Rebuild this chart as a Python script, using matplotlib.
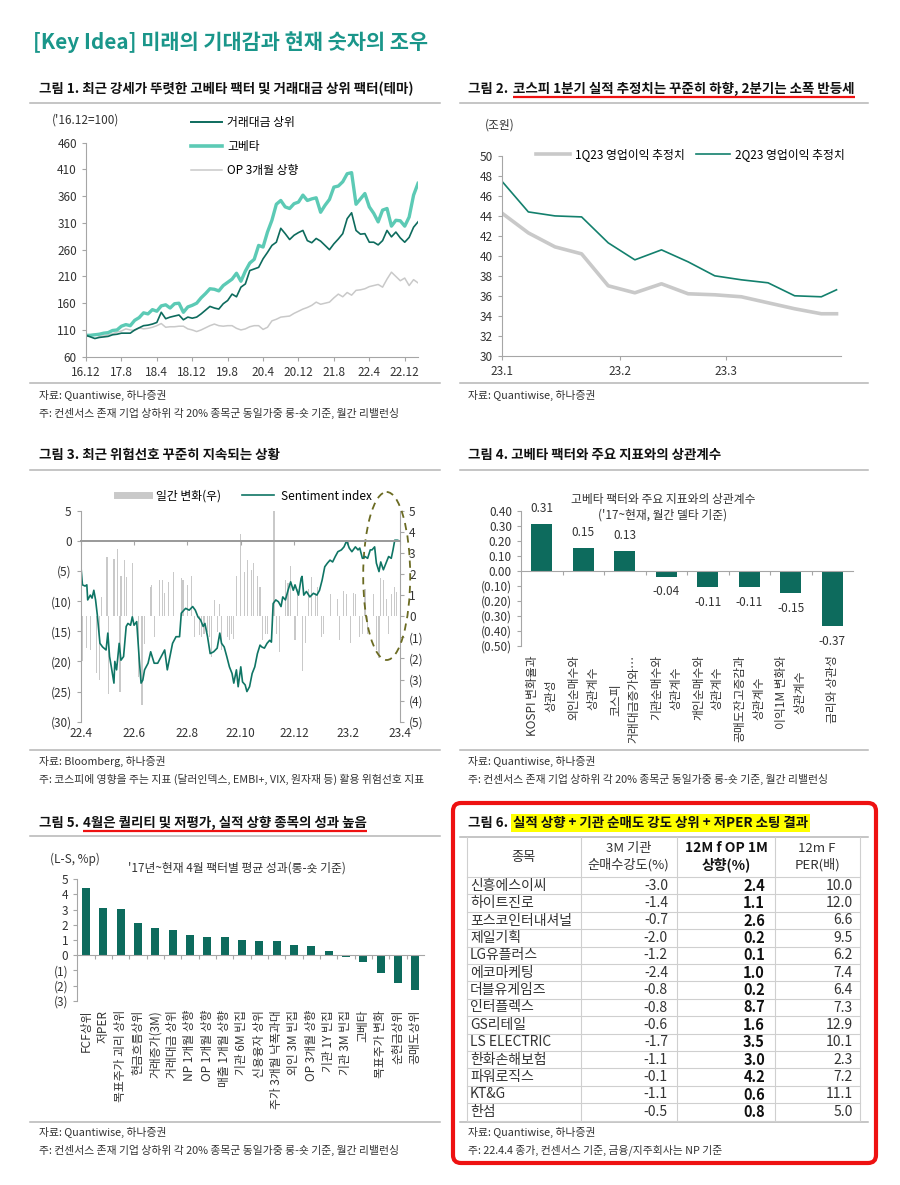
import numpy as np
import pandas as pd
import matplotlib
matplotlib.use('Agg')
import matplotlib.pyplot as plt
from matplotlib.patches import Ellipse, FancyBboxPatch
from matplotlib.lines import Line2D
from matplotlib.ticker import FuncFormatter

plt.rcParams['font.family'] = ['Noto Sans CJK KR', 'DejaVu Sans']
plt.rcParams['axes.unicode_minus'] = False

# ---- 그림 1 데이터 (월간, 16.12 ~ 23.3) ----
p1_xlab = ['16.12', '17.8', '18.4', '18.12', '19.8', '20.4', '20.12', '21.8', '22.4', '22.12']
vol_top = [100, 97, 94, 96, 97, 98, 101, 102, 104, 104, 104, 110, 114, 118, 119, 121, 124, 143, 131, 134,
           136, 138, 129, 134, 132, 134, 140, 147, 154, 151, 149, 159, 165, 177, 172, 190, 196, 221, 224, 227,
           243, 255, 268, 274, 300, 290, 279, 287, 292, 296, 277, 273, 281, 276, 268, 260, 271, 280, 290, 318,
           329, 296, 289, 290, 274, 274, 269, 277, 296, 284, 293, 282, 274, 283, 302, 312]
high_beta = [100, 100, 101, 102, 104, 105, 109, 110, 117, 120, 118, 128, 133, 142, 140, 148, 145, 155, 157, 151,
             159, 160, 143, 153, 156, 160, 170, 178, 187, 186, 183, 193, 199, 205, 216, 201, 220, 235, 242, 268,
             265, 293, 315, 345, 352, 340, 337, 346, 349, 362, 352, 355, 357, 330, 343, 354, 377, 379, 387, 402,
             404, 345, 355, 365, 340, 328, 312, 334, 337, 304, 315, 314, 304, 321, 362, 384]
op_up3 = [100, 101, 102, 98, 99, 101, 103, 106, 108, 112, 110, 109, 114, 112, 113, 115, 118, 122, 115, 116,
          116, 117, 117, 112, 110, 107, 110, 114, 118, 121, 118, 117, 118, 118, 113, 110, 112, 116, 118, 118,
          111, 115, 127, 130, 134, 135, 136, 141, 145, 149, 152, 156, 162, 158, 160, 162, 170, 177, 172, 180,
          175, 184, 185, 187, 191, 193, 195, 190, 205, 218, 210, 202, 207, 193, 204, 198]

# ---- 그림 2 데이터 (주간) ----
p2_dates = ['2023-01-01', '2023-01-08', '2023-01-15', '2023-01-22', '2023-01-29', '2023-02-05', '2023-02-12',
            '2023-02-19', '2023-02-26', '2023-03-05', '2023-03-12', '2023-03-19', '2023-03-26', '2023-03-30']
op_1q23 = [44.3, 42.3, 40.9, 40.2, 37.0, 36.3, 37.2, 36.2, 36.1, 35.9, 35.3, 34.7, 34.2, 34.2]
op_2q23 = [47.5, 44.4, 44.0, 43.9, 41.3, 39.6, 40.6, 39.4, 38.0, 37.6, 37.3, 36.0, 35.9, 36.6]
p2_xlab = ['23.1', '23.2', '23.3']

# ---- 그림 3 데이터 (22.4.1 기준 경과일) ----
sent_day = [0, 2, 5, 7, 8, 11, 13, 15, 17, 19, 22, 25, 29, 31, 33, 35, 38, 39, 41, 44, 46, 49, 52, 54, 57, 59,
            61, 64, 67, 69, 71, 73, 77, 80, 84, 88, 92, 96, 99, 102, 105, 109, 113, 115, 118, 120, 124, 128, 131,
            134, 137, 140, 142, 145, 148, 152, 156, 159, 161, 164, 167, 170, 173, 175, 178, 180, 183, 185, 188,
            190, 193, 196, 199, 202, 205, 207, 210, 213, 216, 218, 220, 223, 226, 229, 231, 234, 237, 240, 243,
            245, 249, 252, 253, 255, 258, 262, 266, 270, 273, 276, 279, 282, 285, 288, 291, 294, 298, 301, 304,
            307, 310, 314, 317, 319, 322, 325, 328, 331, 333, 336, 338, 341, 343, 346, 349, 352, 355, 357, 359,
            362, 364]
sent_val = [-3.8, -7.3, -7.5, -7.3, -9.8, -9.0, -9.5, -8.2, -9.8, -12.3, -17.0, -17.6, -18.1, -15.3, -19.2,
            -20.9, -23.6, -20.0, -21.4, -17.0, -19.8, -19.2, -14.2, -13.7, -14.0, -12.6, -14.0, -13.4, -19.8,
            -23.6, -23.1, -21.4, -20.3, -18.4, -20.3, -20.3, -19.2, -18.1, -21.4, -19.2, -17.0, -15.9, -15.9,
            -12.0, -11.5, -11.2, -11.5, -10.9, -11.5, -12.6, -13.1, -14.2, -13.7, -15.9, -18.7, -18.4, -17.8,
            -15.3, -17.0, -17.6, -19.2, -20.9, -22.0, -23.6, -21.4, -24.2, -20.9, -23.4, -23.9, -25.0, -24.2,
            -22.0, -20.9, -18.7, -17.3, -17.6, -17.8, -17.0, -16.5, -16.8, -10.4, -9.8, -10.1, -10.9, -9.3,
            -9.8, -8.2, -6.8, -8.2, -7.3, -9.0, -6.2, -5.9, -9.0, -8.4, -9.3, -8.7, -9.0, -8.2, -6.5, -4.3,
            -3.7, -3.2, -3.5, -2.6, -1.8, -1.5, -1.0, 0.0, -1.2, -1.8, -1.0, -1.5, -1.2, -2.9, -2.6, -2.9,
            -1.5, -1.5, -1.0, -3.7, -5.1, -3.5, -4.8, -3.7, -2.6, -2.9, -1.5, 0.1, 0.1, 0.0]
chg_day = [2, 7, 11, 18, 21, 24, 30, 32, 38, 42, 45, 46, 50, 52, 59, 66, 70, 73, 80, 81, 84, 90, 94, 96, 100,
           106, 115, 117, 122, 127, 130, 136, 138, 141, 145, 147, 150, 153, 156, 159, 161, 168, 170, 172, 175,
           178, 183, 187, 191, 195, 198, 202, 205, 208, 211, 214, 221, 224, 227, 234, 237, 240, 245, 248, 254,
           257, 260, 264, 268, 271, 275, 278, 286, 294, 296, 300, 304, 308, 312, 314, 319, 322, 325, 328, 335,
           338, 341, 343, 346, 350, 352, 355, 359, 361]
chg_val = [-2.1, -1.5, -1.6, -2.7, -3.0, 0.9, 2.8, -3.7, 2.7, 3.2, -3.6, 1.9, 2.65, 1.86, 2.5, -2.9, -4.2,
           -1.3, 1.4, 1.5, -1.0, 1.7, 1.7, 1.1, 1.6, 2.1, 1.8, 1.7, 1.5, 1.9, -1.0, -0.9, -1.0, -0.85, -0.75,
           -1.0, -1.95, 0.75, -0.75, 0.6, -1.6, -1.0, -1.15, -0.85, -1.1, 1.9, 3.9, 2.1, 2.65, 2.2, 2.5, 1.9,
           1.4, -1.15, -0.85, -0.85, 5.0, -0.85, -1.7, 1.7, 1.55, 2.4, -1.15, 1.3, -2.6, -1.25, 1.3, 1.85, 1.1,
           1.4, -1.0, -0.85, 1.05, 0.8, -1.15, 1.2, 1.05, -1.25, 1.1, 1.05, -1.0, -0.85, 1.3, -0.85, 1.05,
           -1.6, -2.0, 1.8, 1.7, 0.8, -0.85, 1.05, 1.4, 1.15]
p3_months = ['2022-04-01', '2022-06-01', '2022-08-01', '2022-10-01', '2022-12-01', '2023-02-01', '2023-04-01']
p3_xlab = ['22.4', '22.6', '22.8', '22.10', '22.12', '23.2', '23.4']

# ---- 그림 4 데이터 ----
p4_labels = ['KOSPI 변화율과\n상관성', '외인순매수와\n상관계수', '코스피\n거래대금증가와…', '기관순매수와\n상관계수',
             '개인순매수와\n상관계수', '공매도잔고증감과\n상관계수', '이익1M 변화와\n상관계수', '금리와 상관성']
p4_vals = [0.31, 0.15, 0.13, -0.04, -0.11, -0.11, -0.15, -0.37]

# ---- 그림 5 데이터 ----
p5_labels = ['FCF상위', '저PER', '목표주가 괴리 상위', '현금흐름상위', '거래증가(3M)', '거래대금 상위', 'NP 1개월 상향',
             'OP 1개월 상향', '매출 1개월 상향', '기관 6M 빈집', '신용융자 상위', '주가 3개월 낙폭과대', '외인 3M 빈집',
             'OP 3개월 상향', '기관 1Y 빈집', '기관 3M 빈집', '고베타', '목표주가 변화', '순현금상위', '공매도상위']
p5_vals = [4.4, 3.12, 3.03, 2.13, 1.82, 1.65, 1.34, 1.19, 1.19, 1.01, 0.92, 0.92, 0.70, 0.62, 0.29,
           -0.11, -0.44, -1.16, -1.82, -2.31]

# ---- 그림 6 데이터 ----
t6_names = ['신흥에스이씨', '하이트진로', '포스코인터내셔널', '제일기획', 'LG유플러스', '에코마케팅', '더블유게임즈',
            '인터플렉스', 'GS리테일', 'LS ELECTRIC', '한화손해보험', '파워로직스', 'KT&G', '한섬']
t6_inst = [-3.0, -1.4, -0.7, -2.0, -1.2, -2.4, -0.8, -0.8, -0.6, -1.7, -1.1, -0.1, -1.1, -0.5]
t6_op = [2.4, 1.1, 2.6, 0.2, 0.1, 1.0, 0.2, 8.7, 1.6, 3.5, 3.0, 4.2, 0.6, 0.8]
t6_per = [10.0, 12.0, 6.6, 9.5, 6.2, 7.4, 6.4, 7.3, 12.9, 10.1, 2.3, 7.2, 11.1, 5.0]

W, H = 900, 1185
TEAL = '#0d6b5d'
LTEAL = '#5ccab5'
GRAY = '#c9c9c9'
AXC = '#a6a6a6'
TXT = '#333333'
FS = 8.5

fig = plt.figure(figsize=(9, 11.85), dpi=100)


def box(x0, y0, x1, y1):
    return fig.add_axes([x0 / W, 1 - y1 / H, (x1 - x0) / W, (y1 - y0) / H])


def style(ax):
    for s in ['top', 'right']:
        ax.spines[s].set_visible(False)
    for s in ['left', 'bottom']:
        ax.spines[s].set_color(AXC)
    ax.tick_params(color=AXC, labelcolor=TXT, labelsize=FS, length=3)
    ax.patch.set_visible(False)


def paren(dec):
    def f(v, pos):
        s = '%.*f' % (dec, abs(v))
        return '(%s)' % s if v < -1e-9 else s
    return FuncFormatter(f)


# 그림 1
ax1 = box(86, 142.7, 418, 356.7)
m = np.arange(len(high_beta))
ax1.plot(m, op_up3, color=GRAY, lw=1.1)
ax1.plot(m, high_beta, color=LTEAL, lw=2.4)
ax1.plot(m, vol_top, color=TEAL, lw=1.2)
ax1.set_xlim(0, 75)
ax1.set_ylim(60, 460)
ax1.set_yticks(range(60, 461, 50))
ax1.set_xticks(m[::8][:len(p1_xlab)])
ax1.set_xticklabels(p1_xlab)
style(ax1)
h1 = [Line2D([], [], color=TEAL, lw=1.4), Line2D([], [], color=LTEAL, lw=2.6), Line2D([], [], color=GRAY, lw=1.1)]
ax1.legend(h1, ['거래대금 상위', '고베타', 'OP 3개월 상향'], loc='upper left', bbox_to_anchor=(0.315, 1.125),
           frameon=False, fontsize=FS, handlelength=2.7, labelspacing=0.95, borderpad=0, borderaxespad=0,
           handletextpad=0.4)

# 그림 2
ax2 = box(501.7, 156, 840.7, 355.7)
d2 = (pd.to_datetime(p2_dates) - pd.Timestamp('2023-01-01')).days
ax2.plot(d2, op_1q23, color=GRAY, lw=2.6)
ax2.plot(d2, op_2q23, color='#13806d', lw=1.2)
ax2.set_ylim(30, 50)
ax2.set_yticks(range(30, 51, 2))
ax2.set_xlim(0, 89.1)
xt2 = (pd.to_datetime(['2023-01-01', '2023-02-01', '2023-03-01']) - pd.Timestamp('2023-01-01')).days
ax2.set_xticks(xt2)
ax2.set_xticklabels(p2_xlab)
style(ax2)
h2 = [Line2D([], [], color=GRAY, lw=2.6), Line2D([], [], color='#13806d', lw=1.2)]
ax2.legend(h2, ['1Q23 영업이익 추정치', '2Q23 영업이익 추정치'], loc='upper left', bbox_to_anchor=(0.1, 1.04),
           ncol=2, frameon=False, fontsize=FS, handlelength=2.9, columnspacing=1.0, borderpad=0,
           borderaxespad=0, handletextpad=0.4)

# 그림 3
ax3 = box(80.7, 510.7, 400, 721.7)
ax3r = ax3.twinx()
ax3r.bar(chg_day, chg_val, width=1.3, color=GRAY)
ax3.plot(sent_day, sent_val, color='#0f7565', lw=1.2)
ax3.set_zorder(ax3r.get_zorder() + 1)
ax3.patch.set_visible(False)
ax3.set_xlim(0, 365)
ax3.set_ylim(-30, 5)
ax3.set_yticks(range(-30, 6, 5))
ax3.yaxis.set_major_formatter(paren(0))
ax3r.set_ylim(-5, 5)
ax3r.set_yticks(range(-5, 6))
ax3r.yaxis.set_major_formatter(paren(0))
xt3 = (pd.to_datetime(p3_months) - pd.Timestamp('2022-04-01')).days
style(ax3)
ax3.spines['bottom'].set_position(('data', 0))
ax3.spines['bottom'].set_color('#999999')
ax3.spines['bottom'].set_linewidth(1.4)
ax3.set_xticks(xt3)
ax3.tick_params(axis='x', labelbottom=False)
for x, lab in zip(xt3, p3_xlab):
    ax3.text(x, -0.058, lab, transform=ax3.get_xaxis_transform(), ha='center', va='center', fontsize=FS,
             color=TXT)
for s in ['top', 'left', 'bottom']:
    ax3r.spines[s].set_visible(False)
ax3r.spines['right'].set_color(AXC)
ax3r.tick_params(color=AXC, labelcolor=TXT, labelsize=FS, length=3)
h3 = [Line2D([], [], color=GRAY, lw=5), Line2D([], [], color='#0f7565', lw=1.2)]
ax3.legend(h3, ['일간 변화(우)', 'Sentiment index'], loc='upper left', bbox_to_anchor=(0.114, 1.1), ncol=2,
           frameon=False, fontsize=FS, handlelength=2.7, columnspacing=1.8, borderpad=0, borderaxespad=0,
           handletextpad=0.6)

# 그림 4
ax4 = box(521, 510.7, 853, 645.7)
x4 = np.arange(len(p4_vals))
ax4.bar(x4, p4_vals, width=0.5, color=TEAL)
ax4.set_xlim(-0.5, 7.5)
ax4.set_ylim(-0.5, 0.4)
ax4.set_yticks(np.arange(-0.5, 0.41, 0.1))
ax4.yaxis.set_major_formatter(paren(2))
style(ax4)
ax4.spines['bottom'].set_position(('data', 0))
ax4.set_xticks(np.arange(0.5, 7, 1))
ax4.tick_params(axis='x', labelbottom=False)
for x, v in zip(x4, p4_vals):
    ax4.annotate('%.2f' % v, (x, v), xytext=(0, 11 if v > 0 else -11), textcoords='offset points',
                 ha='center', va='center', fontsize=FS, color=TXT)
for x, lab in zip(x4, p4_labels):
    ax4.text(x, -0.07, lab, transform=ax4.get_xaxis_transform(), rotation=90, ha='center', va='top',
             multialignment='center', fontsize=FS, color=TXT, linespacing=1.55)

# 그림 5
ax5 = box(77.3, 879.3, 424, 1000.7)
x5 = np.arange(len(p5_vals))
ax5.bar(x5, p5_vals, width=0.45, color=TEAL)
ax5.set_xlim(-0.5, len(p5_vals) - 0.5)
ax5.set_ylim(-3, 5)
ax5.set_yticks(range(-3, 6))
ax5.yaxis.set_major_formatter(paren(0))
style(ax5)
ax5.spines['bottom'].set_position(('data', 0))
ax5.set_xticks(np.arange(0.5, len(p5_vals) - 1, 1))
ax5.tick_params(axis='x', labelbottom=False)
for x, lab in zip(x5, p5_labels):
    ax5.text(x, -0.075, lab, transform=ax5.get_xaxis_transform(), rotation=90, ha='center', va='top',
             fontsize=FS, color=TXT)

# 전체 텍스트 레이어 (픽셀 좌표)
ov = fig.add_axes([0, 0, 1, 1])
ov.set_xlim(0, W)
ov.set_ylim(H, 0)
ov.axis('off')

ov.text(33, 42, '[Key Idea] 미래의 기대감과 현재 숫자의 조우', color='#1a968a', fontsize=15, va='center',
        fontweight='bold')

src = '자료: Quantiwise, 하나증권'
note = '주: 컨센서스 존재 기업 상하위 각 20% 종목군 동일가중 롱-숏 기준, 월간 리밸런싱'
tkw = dict(fontsize=9.7, fontweight='bold', va='center', color='#111111')
skw = dict(fontsize=7.8, va='center', color=TXT)

# 그림 1
ov.text(39, 89, '그림 1. 최근 강세가 뚜렷한 고베타 팩터 및 거래대금 상위 팩터(테마)', **tkw)
ov.text(52, 120, "('16.12=100)", fontsize=FS, va='center', color=TXT)
ov.text(39, 395, src, **skw)
ov.text(39, 413, note, **skw)
# 그림 2
ov.text(468, 89, '그림 2.', **tkw)
t2 = ov.text(513, 89, '코스피 1분기 실적 추정치는 꾸준히 하향, 2분기는 소폭 반등세', **tkw)
ov.text(485, 125, '(조원)', fontsize=FS, va='center', color=TXT)
ov.text(468, 395, src, **skw)
# 그림 3
ov.text(39, 455, '그림 3. 최근 위험선호 꾸준히 지속되는 상황', **tkw)
ov.text(39, 761, '자료: Bloomberg, 하나증권', **skw)
ov.text(39, 779, '주: 코스피에 영향을 주는 지표 (달러인덱스, EMBI+, VIX, 원자재 등) 활용 위험선호 지표', **skw)
ov.add_patch(Ellipse((386.7, 576), 47, 168, fill=False, ec='#6b6b22', lw=1.3, ls=(0, (4, 3))))
# 그림 4
ov.text(468, 455, '그림 4. 고베타 팩터와 주요 지표와의 상관계수', **tkw)
ov.text(663, 499, '고베타 팩터와 주요 지표와의 상관계수', fontsize=FS, ha='center', va='center', color=TXT)
ov.text(663, 515, "('17~현재, 월간 델타 기준)", fontsize=FS, ha='center', va='center', color=TXT)
ov.text(468, 761, src, **skw)
ov.text(468, 779, note, **skw)
# 그림 5
ov.text(39, 823, '그림 5.', **tkw)
t5 = ov.text(83, 823, '4월은 퀄리티 및 저평가, 실적 상향 종목의 성과 높음', **tkw)
ov.text(50, 859, '(L-S, %p)', fontsize=FS, va='center', color=TXT)
ov.text(237, 868, "'17년~현재 4월 팩터별 평균 성과(롱-숏 기준)", fontsize=FS, ha='center', va='center', color=TXT)
ov.text(39, 1132, src, **skw)
ov.text(39, 1150, note, **skw)
# 그림 6
ov.text(468, 823, '그림 6.', **tkw)
ov.text(513, 823, '실적 상향 + 기관 순매도 강도 상위 + 저PER 소팅 결과', bbox=dict(facecolor='#ffff00',
        edgecolor='none', pad=1.5), **tkw)
ov.text(468, 1132, src, **skw)
ov.text(468, 1150, '주: 22.4.4 종가, 컨센서스 기준, 금융/지주회사는 NP 기준', **skw)

# 구분선
for x0, x1, ys in [(30, 440, [103, 383]), (460, 868, [103, 383]), (30, 440, [470, 750]), (460, 868, [470, 750]),
                   (30, 440, [836, 1122]), (460, 868, [837, 1122])]:
    for y in ys:
        ov.plot([x0, x1], [y, y], color='#b5b5b5', lw=1.1)

# 표
cols = [467.3, 580.7, 676.7, 775, 860]
top, hdr, rh = 837, 877, 17.4
bot = hdr + rh * len(t6_names)
for x in cols:
    ov.plot([x, x], [top, bot], color='#cfcfcf', lw=0.8)
for i in range(len(t6_names) + 1):
    ov.plot([cols[0], cols[-1]], [hdr + rh * i] * 2, color='#cfcfcf', lw=0.8)
ov.text(524, 857, '종목', fontsize=9.5, ha='center', va='center', color=TXT)
ov.text(628.7, 857, '3M 기관\n순매수강도(%)', fontsize=9.5, ha='center', va='center', color=TXT, linespacing=1.3)
ov.text(726, 857, '12M f OP 1M\n상향(%)', fontsize=10, fontweight='bold', ha='center', va='center',
        color='#111111', linespacing=1.2)
ov.text(817, 857, '12m F\nPER(배)', fontsize=9.5, ha='center', va='center', color=TXT, linespacing=1.3)
for i, (nm, a, b, c) in enumerate(zip(t6_names, t6_inst, t6_op, t6_per)):
    yc = hdr + rh * (i + 0.5)
    ov.text(470, yc, nm, fontsize=10, va='center', color=TXT)
    ov.text(668, yc, '%.1f' % a, fontsize=10, ha='right', va='center', color=TXT)
    ov.text(765, yc, '%.1f' % b, fontsize=10.5, ha='right', va='center', color='#111111', fontweight='bold')
    ov.text(853, yc, '%.1f' % c, fontsize=10, ha='right', va='center', color=TXT)
ov.add_patch(FancyBboxPatch((453, 803), 423, 360, boxstyle='round,pad=0,rounding_size=8', fill=False,
                            ec='#ee1111', lw=3))

# 제목 밑줄
fig.canvas.draw()
for t, y in [(t2, 97), (t5, 831)]:
    bb = t.get_window_extent()
    ov.plot([bb.x0, bb.x1], [y, y], color='#ee1111', lw=1.6, solid_capstyle='butt')

fig.savefig('out.png', dpi=100)
